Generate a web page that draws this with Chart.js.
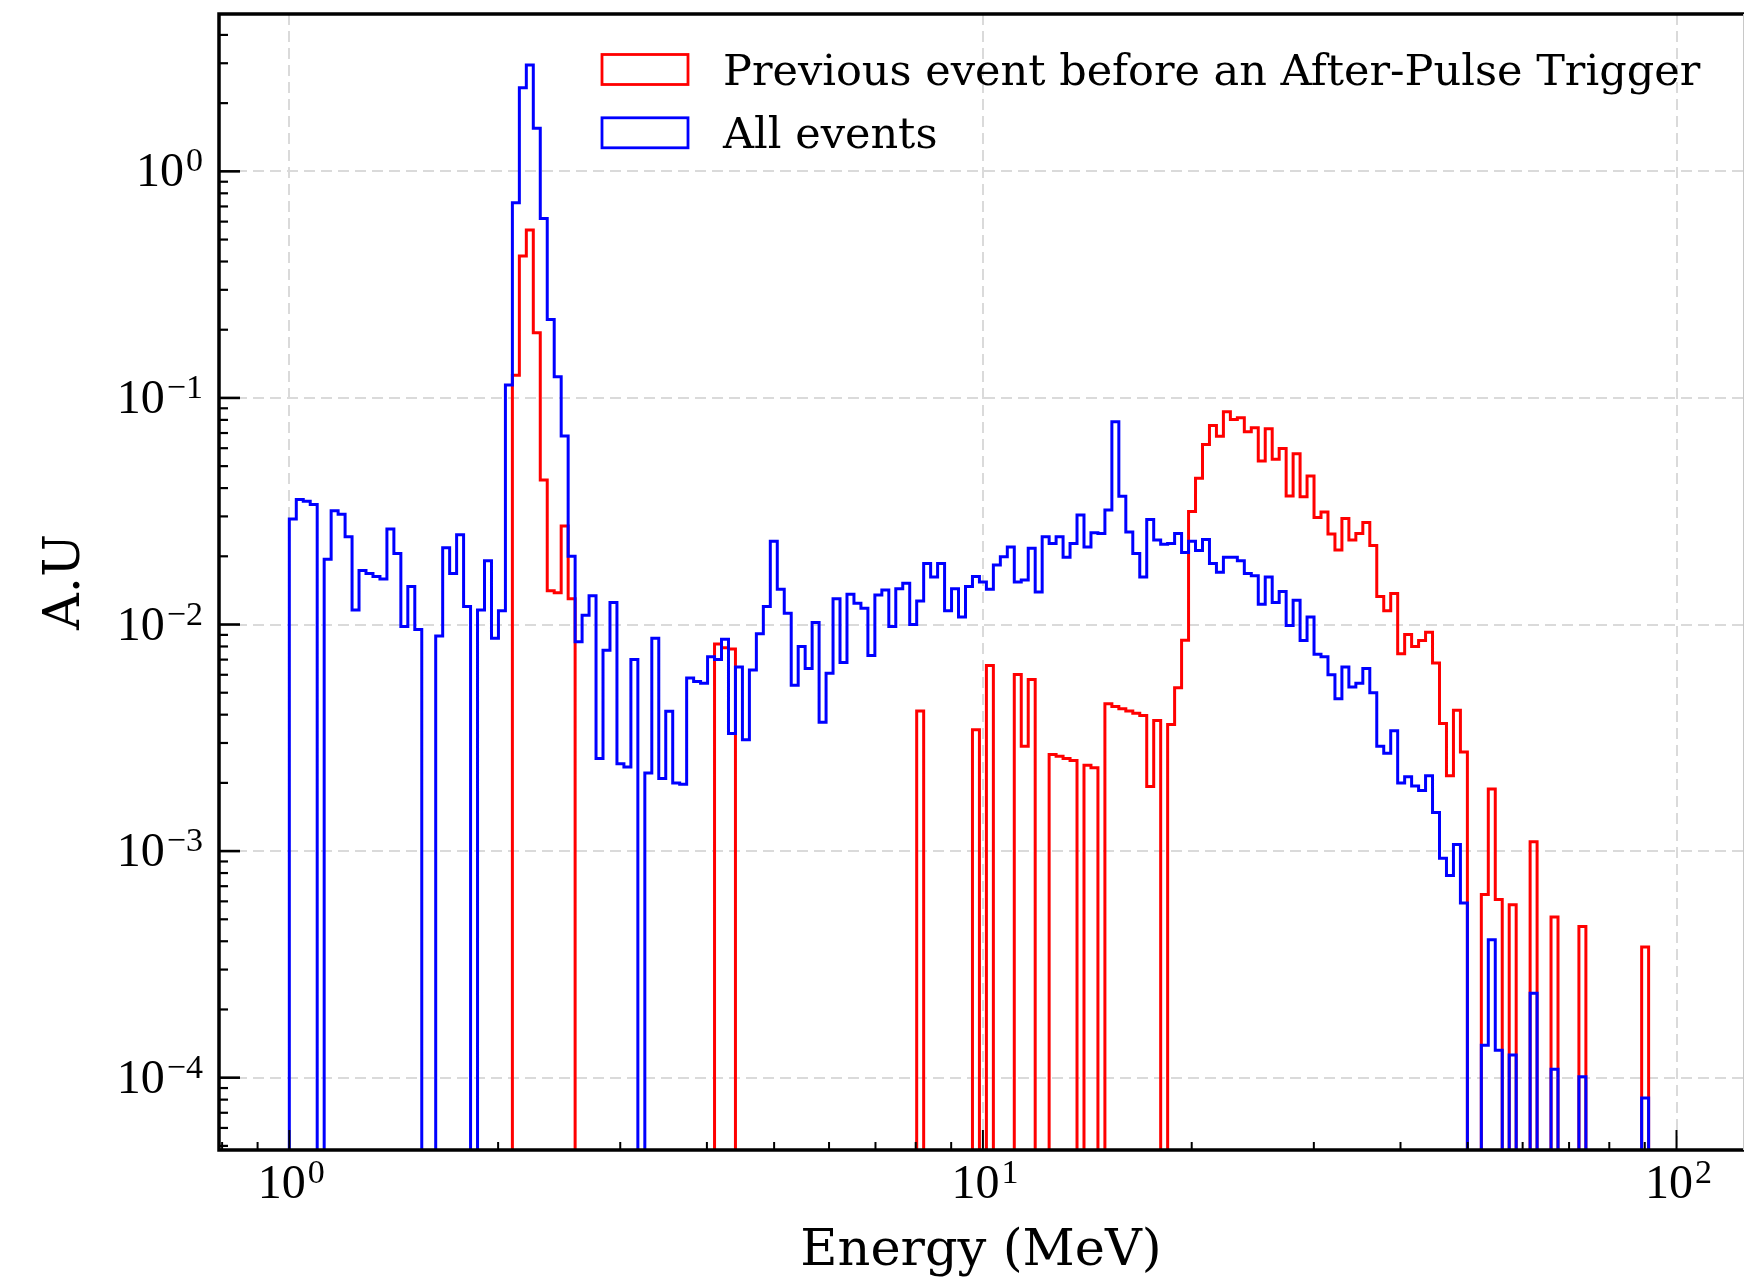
<!DOCTYPE html>
<html>
<head>
<meta charset="utf-8">
<script src="https://cdn.jsdelivr.net/npm/chart.js@4.4.1/dist/chart.umd.min.js"></script>
<style>
  html, body { margin: 0; padding: 0; background: #fff; }
  canvas { display: block; }
</style>
</head>
<body>
<canvas id="myChart" width="1744" height="1279"></canvas>
<script>
const ctx = document.getElementById('myChart');

// 199 log bins from 1 to 100 MeV (same as np.logspace(0, 2, 200))
const binCount = 199;
const binEdges = Array.from({length: binCount + 1}, (_, i) => Math.pow(10, 2 * i / binCount));

// bin contents, 0 = empty bin
const allEvents = [
  0.0292, 0.0356, 0.0350, 0.0339, 0, 0.0194, 0.0318, 0.0307, 0.0244, 0.0116,
  0.0173, 0.0168, 0.0163, 0.0159, 0.0264, 0.0206, 0.0098, 0.0147, 0.0095, 0,
  0, 0.0089, 0.0218, 0.0168, 0.0249, 0.0120, 0, 0.0116, 0.0191, 0.0087,
  0.0115, 0.114, 0.727, 2.34, 2.95, 1.55, 0.620, 0.222, 0.124, 0.068,
  0.0200, 0.0084, 0.0110, 0.0134, 0.00256, 0.0077, 0.0125, 0.00243, 0.00235, 0.0070,
  0, 0.00221, 0.0087, 0.00209, 0.00414, 0.00200, 0.00197, 0.0058, 0.0056, 0.0055,
  0.0072, 0.0070, 0.0086, 0.0033, 0.0065, 0.0031, 0.0063, 0.0091, 0.0120, 0.0233,
  0.0143, 0.0112, 0.0054, 0.0080, 0.0064, 0.0102, 0.0037, 0.0061, 0.0130, 0.0068,
  0.0136, 0.0124, 0.0118, 0.0073, 0.0135, 0.0142, 0.0098, 0.0144, 0.0152, 0.0100,
  0.0127, 0.0186, 0.0162, 0.0186, 0.0115, 0.0144, 0.0108, 0.0147, 0.0163, 0.0154,
  0.0143, 0.0183, 0.0199, 0.0220, 0.0154, 0.0157, 0.0217, 0.0139, 0.0244, 0.0228,
  0.0244, 0.0198, 0.0228, 0.0304, 0.0220, 0.0254, 0.0252, 0.0320, 0.0784, 0.0368,
  0.0256, 0.0206, 0.0162, 0.0291, 0.0236, 0.0226, 0.0228, 0.0252, 0.0208, 0.0233,
  0.0212, 0.0237, 0.0186, 0.0170, 0.0198, 0.0198, 0.0191, 0.0168, 0.0164, 0.0123,
  0.0162, 0.0125, 0.0140, 0.0099, 0.0128, 0.0085, 0.0108, 0.0074, 0.0072, 0.0060,
  0.0047, 0.0065, 0.0053, 0.0055, 0.0064, 0.0050, 0.0029, 0.0027, 0.0034, 0.0020,
  0.00213, 0.00194, 0.00185, 0.00215, 0.00148, 0.00093, 0.00078, 0.00107, 0.00059, 0,
  0, 0.000139, 0.000406, 0.000132, 0, 0.000126, 0, 0, 0.000236, 0,
  0, 0.000109, 0, 0, 0, 0.000101, 0, 0, 0, 0,
  0, 0, 0, 0, 0.0000813, 0, 0, 0, 0
];

const prevBeforeAfterPulse = [
  0, 0, 0, 0, 0, 0, 0, 0, 0, 0,
  0, 0, 0, 0, 0, 0, 0, 0, 0, 0,
  0, 0, 0, 0, 0, 0, 0, 0, 0, 0,
  0, 0, 0.126, 0.423, 0.551, 0.194, 0.0434, 0.0141, 0.0138, 0.0272,
  0.0130, 0, 0, 0, 0, 0, 0, 0, 0, 0,
  0, 0, 0, 0, 0, 0, 0, 0, 0, 0,
  0, 0.0082, 0.0079, 0.0078, 0, 0, 0, 0, 0, 0,
  0, 0, 0, 0, 0, 0, 0, 0, 0, 0,
  0, 0, 0, 0, 0, 0, 0, 0, 0, 0,
  0.00415, 0, 0, 0, 0, 0, 0, 0, 0.00343, 0,
  0.00659, 0, 0, 0, 0.00602, 0.00290, 0.00572, 0, 0, 0.00267,
  0.00262, 0.00256, 0.00251, 0, 0.00239, 0.00233, 0, 0.00447, 0.00435, 0.00425,
  0.00415, 0.00406, 0.00397, 0.00193, 0.00377, 0, 0.00362, 0.00526, 0.00853, 0.0315,
  0.0442, 0.0623, 0.0756, 0.0678, 0.0868, 0.0803, 0.0817, 0.0709, 0.0738, 0.0527,
  0.0731, 0.0536, 0.0598, 0.0369, 0.0567, 0.0366, 0.0452, 0.0297, 0.0314, 0.0251,
  0.0213, 0.0294, 0.0236, 0.0252, 0.0282, 0.0223, 0.0133, 0.0115, 0.0137, 0.00743,
  0.00904, 0.00800, 0.00851, 0.00925, 0.00676, 0.00366, 0.00215, 0.00418, 0.00274, 0,
  0, 0.000643, 0.00188, 0.000611, 0, 0.00058, 0, 0, 0.0011, 0,
  0, 0.000512, 0, 0, 0, 0.000465, 0, 0, 0, 0,
  0, 0, 0, 0, 0.000377, 0, 0, 0, 0
];

const seriesLabels = ['Previous event before an After-Pulse Trigger', 'All events'];
const seriesColors = ['#ff0000', '#0000ff'];

const xMajorTicks = [1, 10, 100];
const xTickExps = ['0', '1', '2'];
const yMajorTicks = [1e-4, 1e-3, 1e-2, 1e-1, 1];
const yTickExps = ['\u22124', '\u22123', '\u22122', '\u22121', '0'];

const xLimits = [0.7918, 124.7];
const yLimits = [4.795e-5, 4.948];

const xTitle = 'Energy (MeV)';
const yTitle = 'A.U';

const gridColor = '#dadada';
const FLOOR = 1e-8; // empty bins: drop below the axis like matplotlib does

// step outline of a histogram: rise at the first edge, fall after the last bin
const toSteps = (vals) => {
  const pts = [{x: binEdges[0], y: FLOOR}];
  vals.forEach((v, i) => pts.push({x: binEdges[i], y: v > 0 ? v : FLOOR}));
  pts.push({x: binEdges[vals.length], y: FLOOR});
  return pts;
};

// minor tick positions (2..9 of every decade)
const minorTicks = (lo, hi) => {
  const out = [];
  for (let e = Math.floor(Math.log10(lo)); e <= Math.ceil(Math.log10(hi)); e++) {
    for (let m = 2; m <= 9; m++) {
      const v = m * Math.pow(10, e);
      if (v > lo && v < hi) out.push(v);
    }
  }
  return out;
};

const drawPow = (c, exp, x, yBase, align) => {
  c.font = '48px "Liberation Serif"';
  const wb = c.measureText('10').width;
  c.font = '34px "Liberation Serif"';
  const we = c.measureText(exp).width;
  const total = wb + 2 + we;
  const x0 = align === 'right' ? x - total : x - total / 2;
  c.textAlign = 'left';
  c.textBaseline = 'alphabetic';
  c.font = '48px "Liberation Serif"';
  c.fillText('10', x0, yBase);
  c.font = '34px "Liberation Serif"';
  c.fillText(exp, x0 + wb + 2, yBase - 15);
};

const decor = {
  id: 'decor',
  afterDraw(chart) {
    const c = chart.ctx;
    const a = chart.chartArea;
    const sx = chart.scales.x;
    const sy = chart.scales.y;
    c.save();
    c.strokeStyle = '#000';
    c.fillStyle = '#000';

    // ticks pointing inwards
    const tick = (x1, y1, x2, y2, w) => {
      c.lineWidth = w;
      c.beginPath(); c.moveTo(x1, y1); c.lineTo(x2, y2); c.stroke();
    };
    minorTicks(xLimits[0], xLimits[1]).forEach(v => {
      const px = sx.getPixelForValue(v);
      tick(px, a.bottom, px, a.bottom - 8, 2);
    });
    xMajorTicks.forEach(v => {
      const px = sx.getPixelForValue(v);
      tick(px, a.bottom, px, a.bottom - 20, 2);
    });
    minorTicks(yLimits[0], yLimits[1]).forEach(v => {
      const py = sy.getPixelForValue(v);
      tick(a.left, py, a.left + 9, py, 2.2);
    });
    yMajorTicks.forEach(v => {
      const py = sy.getPixelForValue(v);
      tick(a.left, py, a.left + 21, py, 2.6);
    });

    // spines
    c.lineWidth = 3.5;
    c.beginPath();
    c.moveTo(a.right + 2, a.top); c.lineTo(a.left, a.top);
    c.lineTo(a.left, a.bottom); c.lineTo(a.right + 2, a.bottom);
    c.stroke();
    c.strokeStyle = '#c8c8c8';
    c.lineWidth = 1;
    c.beginPath(); c.moveTo(a.right + 0.5, a.top); c.lineTo(a.right + 0.5, a.bottom); c.stroke();

    // tick labels
    xMajorTicks.forEach((v, i) => drawPow(c, xTickExps[i], sx.getPixelForValue(v) + 2, 1198, 'center'));
    yMajorTicks.forEach((v, i) => drawPow(c, yTickExps[i], 203, sy.getPixelForValue(v) + 15, 'right'));

    // axis titles
    c.font = '51px "DejaVu Serif"';
    c.textAlign = 'center';
    c.textBaseline = 'alphabetic';
    c.fillText(xTitle, (a.left + a.right) / 2, 1265);
    c.save();
    c.translate(79, (a.top + a.bottom) / 2);
    c.rotate(-Math.PI / 2);
    c.fillText(yTitle, 0, 0);
    c.restore();

    // legend (outline patches, no frame)
    c.font = '43px "DejaVu Serif"';
    c.textAlign = 'left';
    chart.data.datasets.forEach((ds, i) => {
      const top = 54.5 + i * 63.3;
      c.strokeStyle = ds.borderColor;
      c.lineWidth = 2.8;
      c.strokeRect(602, top, 86, 30);
      c.fillStyle = '#000';
      c.fillText(ds.label, 723, top + 30.5);
    });
    c.restore();
  }
};

const axisBase = (limits) => ({
  type: 'logarithmic',
  min: limits[0],
  max: limits[1],
  bounds: 'data',
  ticks: { display: false },
  grid: { color: gridColor, lineWidth: 2, drawTicks: false, tickLength: 0 },
  border: { display: false, dash: [11, 6] }
});

new Chart(ctx, {
  type: 'line',
  data: {
    datasets: [
      {
        label: seriesLabels[0],
        data: toSteps(prevBeforeAfterPulse),
        borderColor: seriesColors[0],
        borderWidth: 3,
        stepped: true,
        pointRadius: 0,
        fill: false,
        order: 1
      },
      {
        label: seriesLabels[1],
        data: toSteps(allEvents),
        borderColor: seriesColors[1],
        borderWidth: 3,
        stepped: true,
        pointRadius: 0,
        fill: false,
        order: 0
      }
    ]
  },
  options: {
    responsive: false,
    animation: false,
    devicePixelRatio: 1,
    layout: { padding: { top: 14, right: 1, left: 0, bottom: 0 } },
    plugins: { legend: { display: false }, tooltip: { enabled: false } },
    scales: {
      x: Object.assign(axisBase(xLimits), {
        position: 'bottom',
        afterBuildTicks: (s) => { s.ticks = xMajorTicks.map(v => ({ value: v })); },
        afterFit: (s) => { s.height = 129; }
      }),
      y: Object.assign(axisBase(yLimits), {
        position: 'left',
        afterBuildTicks: (s) => { s.ticks = yMajorTicks.map(v => ({ value: v })); },
        afterFit: (s) => { s.width = 219; }
      })
    }
  },
  plugins: [decor]
});
</script>
</body>
</html>
